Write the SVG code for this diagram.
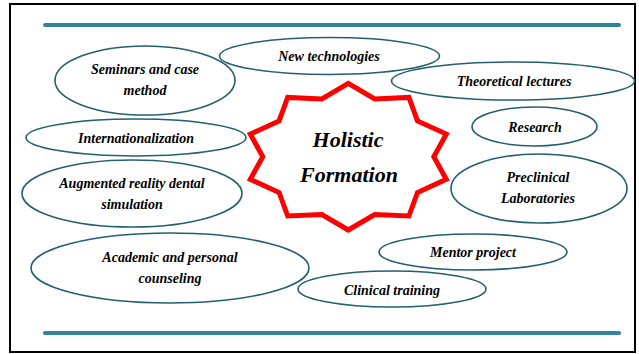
<svg xmlns="http://www.w3.org/2000/svg" width="639" height="354" viewBox="0 0 639 354">
<style>
.node ellipse{fill:none;stroke:#245F6E;stroke-width:1.6}
.lbl{font-family:"Liberation Serif","DejaVu Serif",serif;font-style:italic;font-weight:bold;font-size:14px;fill:#000;text-anchor:middle}
.big{font-family:"Liberation Serif","DejaVu Serif",serif;font-style:italic;font-weight:bold;font-size:22px;fill:#000;text-anchor:middle}
.rule{stroke:#31849B;stroke-width:4;stroke-linecap:round}
</style>
<rect x="0" y="0" width="639" height="354" fill="#fff"/>
<rect x="10" y="4" width="625" height="348" fill="none" stroke="#000" stroke-width="2"/>
<line class="rule" x1="45" y1="25" x2="619" y2="25"/>
<line class="rule" x1="45" y1="333" x2="619" y2="333"/>
<g id="connectors"></g>
<g id="center" class="node">
<path d="M348.3,83.4 L321.9,98.9 L287.7,97.4 L279.1,120.9 L250.3,134.1 L262.8,156.7 L250.3,179.3 L279.1,192.5 L287.7,216 L321.9,214.5 L348.3,230 L374.7,214.5 L408.9,216 L417.5,192.5 L446.3,179.3 L433.8,156.7 L446.3,134.1 L417.5,120.9 L408.9,97.4 L374.7,98.9 Z" fill="#fff" stroke="#FF0000" stroke-width="5"/>
<text class="big" x="348" y="147">Holistic</text>
<text class="big" x="349" y="182">Formation</text>
</g>
<g id="new-tech" class="node"><ellipse cx="329.5" cy="56" rx="110" ry="18.5"/><text class="lbl" x="329" y="61">New technologies</text></g>
<g id="seminars" class="node"><ellipse cx="145" cy="80.5" rx="90" ry="34.5"/><text class="lbl" x="145" y="74">Seminars and case</text><text class="lbl" x="145" y="95">method</text></g>
<g id="intl" class="node"><ellipse cx="136" cy="137.5" rx="110" ry="18.5"/><text class="lbl" x="136" y="142.5">Internationalization</text></g>
<g id="ar" class="node"><ellipse cx="132" cy="193.5" rx="110" ry="33.5"/><text class="lbl" x="132" y="188">Augmented reality dental</text><text class="lbl" x="132" y="209">simulation</text></g>
<g id="academic" class="node"><ellipse cx="170" cy="268" rx="139" ry="35"/><text class="lbl" x="170" y="261.5">Academic and personal</text><text class="lbl" x="170" y="282.5">counseling</text></g>
<g id="theory" class="node"><ellipse cx="513" cy="81" rx="121.5" ry="19"/><text class="lbl" x="514" y="86">Theoretical lectures</text></g>
<g id="research" class="node"><ellipse cx="534.5" cy="126.5" rx="62.5" ry="19.5"/><text class="lbl" x="535" y="131.5">Research</text></g>
<g id="preclinical" class="node"><ellipse cx="539" cy="188.5" rx="88" ry="34.5"/><text class="lbl" x="538" y="181.5">Preclinical</text><text class="lbl" x="538" y="203">Laboratories</text></g>
<g id="mentor" class="node"><ellipse cx="473" cy="252" rx="94" ry="18"/><text class="lbl" x="473" y="256.5">Mentor project</text></g>
<g id="clinical" class="node"><ellipse cx="392" cy="289" rx="94" ry="18"/><text class="lbl" x="392" y="294.5">Clinical training</text></g>
</svg>
